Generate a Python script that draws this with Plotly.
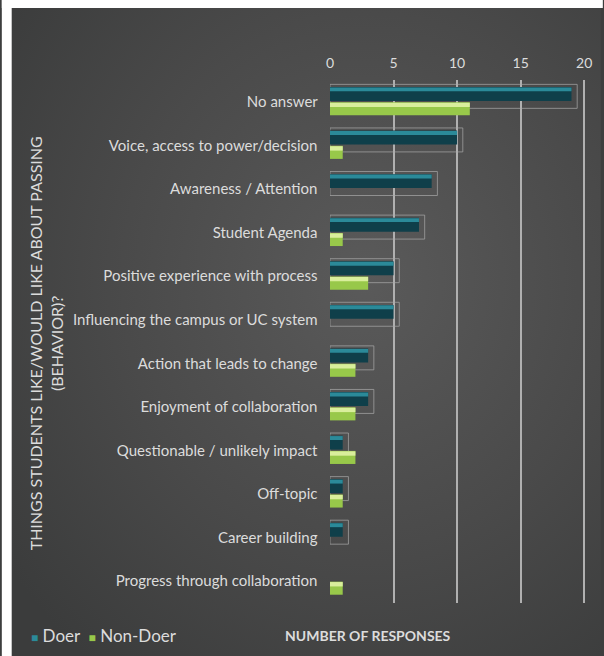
import base64
import plotly.graph_objects as go

# Survey responses: things students like / would like about passing (behavior)
categories = [
    "No answer",
    "Voice, access to power/decision",
    "Awareness / Attention",
    "Student Agenda",
    "Positive experience with process",
    "Influencing the campus or UC system",
    "Action that leads to change",
    "Enjoyment of collaboration",
    "Questionable / unlikely impact",
    "Off-topic",
    "Career building",
    "Progress through collaboration",
]
doer = [19, 10, 8, 7, 5, 5, 3, 3, 1, 1, 1, 0]
non_doer = [11, 1, 0, 1, 3, 0, 2, 2, 2, 1, 0, 1]
x_ticks = [0, 5, 10, 15, 20]

FONT = "Lato"
TEXT = "#dcdcdc"
DOER_COLOR = "#0f3f4a"
DOER_HI = "#2b8a99"
NON_COLOR = "#98c84a"
NON_HI = "#d9ee9c"


def nz(values):
    """Zero counts draw no bar at all."""
    return [v if v > 0 else None for v in values]


# Back-face outline that gives the Doer bars their 3D look
depth = 0.45
outline_x = [v + depth if v > 0 else None for v in doer]

fig = go.Figure()

fig.add_trace(go.Bar(
    y=categories, x=outline_x, orientation="h",
    offset=-0.40, width=0.55,
    marker=dict(color="rgba(0,0,0,0)", line=dict(color="rgba(170,170,170,0.7)", width=1)),
    showlegend=False, hoverinfo="skip",
))

# Doer bars: dark teal body with lighter top highlight
fig.add_trace(go.Bar(
    y=categories, x=nz(doer), orientation="h", name="Doer",
    offset=-0.34, width=0.32,
    marker=dict(color=DOER_COLOR, line=dict(width=0)),
))
fig.add_trace(go.Bar(
    y=categories, x=nz(doer), orientation="h",
    offset=-0.33, width=0.09,
    marker=dict(color=DOER_HI, line=dict(width=0)),
    showlegend=False, hoverinfo="skip",
))

# Non-Doer bars: green body with pale top highlight
fig.add_trace(go.Bar(
    y=categories, x=nz(non_doer), orientation="h", name="Non-Doer",
    offset=0.01, width=0.30,
    marker=dict(color=NON_COLOR, line=dict(width=0)),
))
fig.add_trace(go.Bar(
    y=categories, x=nz(non_doer), orientation="h",
    offset=0.02, width=0.10,
    marker=dict(color=NON_HI, line=dict(width=0)),
    showlegend=False, hoverinfo="skip",
))

W, H = 604, 656
ml, mt = 330, 80
pw, ph = 261, 523
mr, mb = W - ml - pw, H - mt - ph


def px_x(p):
    return (p - ml) / pw


def px_y(p):
    return (mt + ph - p) / ph


# Radial-gradient backdrop
svg = (
    '<svg xmlns="http://www.w3.org/2000/svg" width="600" height="650">'
    '<defs><radialGradient id="g" cx="0.6" cy="0.42" r="0.75">'
    '<stop offset="0" stop-color="#5a5a5a"/>'
    '<stop offset="0.55" stop-color="#4a4a4a"/>'
    '<stop offset="1" stop-color="#3b3c3c"/>'
    '</radialGradient></defs>'
    '<rect width="600" height="650" fill="url(#g)"/></svg>'
)
svg_uri = "data:image/svg+xml;base64," + base64.b64encode(svg.encode()).decode()

fig.add_layout_image(dict(
    source=svg_uri, xref="paper", yref="paper",
    x=px_x(8), y=px_y(8), sizex=(W - 8) / pw, sizey=(H - 8) / ph,
    xanchor="left", yanchor="top", sizing="stretch", layer="below",
))

# White page strips along the top and left edges
fig.add_shape(type="rect", xref="paper", yref="paper",
              x0=px_x(-2), x1=px_x(W + 2), y0=px_y(8), y1=px_y(-2),
              fillcolor="white", line=dict(width=0), layer="below")
fig.add_shape(type="rect", xref="paper", yref="paper",
              x0=px_x(-2), x1=px_x(8), y0=px_y(H + 2), y1=px_y(-2),
              fillcolor="white", line=dict(width=0), layer="below")

fig.update_layout(
    width=W, height=H,
    margin=dict(l=ml, r=mr, t=mt, b=mb),
    paper_bgcolor="#3d3e3e",
    plot_bgcolor="rgba(0,0,0,0)",
    barmode="overlay",
    showlegend=False,
    font=dict(family=FONT, color=TEXT, size=13),
    xaxis=dict(
        side="top", range=[0, 20.3], tickvals=x_ticks,
        showgrid=True, gridcolor="#b0b0b0", gridwidth=2,
        zeroline=False, showline=False, ticks="",
        ticklabelstandoff=8,
        tickfont=dict(size=14, color=TEXT, family=FONT),
        fixedrange=True,
    ),
    yaxis=dict(
        categoryorder="array", categoryarray=categories,
        autorange="reversed", showgrid=False, zeroline=False,
        ticks="", ticksuffix="   ",
        tickfont=dict(size=15, color=TEXT, family=FONT),
        fixedrange=True,
    ),
)

# Legend keys
fig.add_annotation(
    text=(f"<span style='color:{DOER_HI};font-size:12px'>■</span> Doer  "
          f"<span style='color:{NON_COLOR};font-size:12px'>■</span> Non-Doer"),
    xref="paper", yref="paper", x=px_x(26), y=px_y(636),
    xanchor="left", yanchor="middle", showarrow=False,
    font=dict(size=17, color=TEXT, family=FONT),
)

fig.add_annotation(
    text="<b>NUMBER OF RESPONSES</b>", xref="paper", yref="paper",
    x=px_x(368), y=px_y(636), xanchor="center", yanchor="middle",
    showarrow=False, font=dict(size=14, color=TEXT, family=FONT),
)
fig.add_annotation(
    text="THINGS STUDENTS LIKE/WOULD LIKE ABOUT PASSING<br>(BEHAVIOR)?",
    xref="paper", yref="paper", x=px_x(43), y=px_y(343),
    xanchor="center", yanchor="middle", textangle=-90, showarrow=False,
    font=dict(size=16, color=TEXT, family=FONT),
)

fig.write_html("out.html")
